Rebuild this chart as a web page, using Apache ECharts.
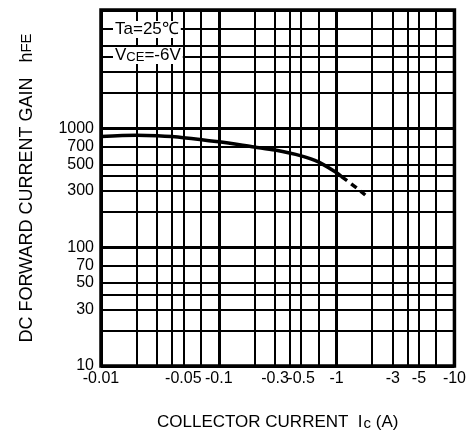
<!DOCTYPE html>
<html>
<head>
<meta charset="utf-8">
<script src="https://cdn.jsdelivr.net/npm/echarts@6/dist/echarts.min.js"></script>
<style>
  html, body { margin: 0; padding: 0; background: #fff; }
  #chart { width: 469px; height: 436px; }
</style>
</head>
<body>
<div id="chart"></div>
<script>
// tick labels (absolute current, shown with a minus sign)
const xTickLabels = [0.01, 0.05, 0.1, 0.3, 0.5, 1, 3, 5, 10];
const yTickLabels = [10, 30, 50, 70, 100, 300, 500, 700, 1000];

// minor grid lines (2,3,4,5,7 in every decade)
const xMinorGrid = [0.02, 0.03, 0.04, 0.05, 0.07, 0.2, 0.3, 0.4, 0.5, 0.7, 2, 3, 4, 5, 7];
const yMinorGrid = [20, 30, 40, 50, 70, 200, 300, 400, 500, 700, 2000, 3000, 4000, 5000, 7000];

// hFE curve
const icSolid = [0.01, 0.02, 0.03, 0.05, 0.1, 0.2, 0.3, 0.5, 0.7, 1.0, 1.1];
const hfeSolid = [860, 880, 870, 840, 775, 700, 660, 590, 525, 425, 395];
const icDashed = [1.1, 1.4, 1.75];
const hfeDashed = [395, 330, 276];

const font = '"Liberation Sans", Arial, sans-serif';

const chart = echarts.init(document.getElementById('chart'));

const pairs = (xs, ys) => xs.map((x, i) => [x, ys[i]]);

chart.setOption({
  animation: false,
  backgroundColor: '#fff',
  grid: {
    left: 101, right: 11, top: 10, bottom: 70,
    show: true, borderColor: '#000', borderWidth: 3.5
  },
  xAxis: [
    {
      type: 'log', logBase: 10, min: 0.01, max: 10,
      axisLine: { show: false },
      axisTick: { show: false },
      splitLine: { show: true, lineStyle: { color: '#000', width: 3 } },
      axisLabel: {
        customValues: xTickLabels,
        formatter: v => '-' + v,
        color: '#000', fontFamily: font, fontSize: 16, margin: 5
      },
      name: '{a|COLLECTOR CURRENT  I}{b|c}{a| (A)}',
      nameLocation: 'middle',
      nameGap: 47,
      nameTextStyle: {
        rich: {
          a: { fontFamily: font, fontSize: 17, color: '#000' },
          b: { fontFamily: font, fontSize: 15, color: '#000', padding: [3, 0, 0, 1] }
        }
      }
    },
    {
      type: 'log', logBase: 10, min: 0.01, max: 10,
      position: 'bottom',
      axisLine: { show: false },
      axisTick: { show: false, customValues: xMinorGrid },
      axisLabel: { show: false },
      splitLine: { show: true, lineStyle: { color: '#000', width: 2 } }
    }
  ],
  yAxis: [
    {
      type: 'log', logBase: 10, min: 10, max: 10000,
      axisLine: { show: false },
      axisTick: { show: false },
      splitLine: { show: true, lineStyle: { color: '#000', width: 3 } },
      axisLabel: {
        customValues: yTickLabels,
        formatter: v => String(v),
        color: '#000', fontFamily: font, fontSize: 16, margin: 7
      },
      name: '{a|DC FORWARD CURRENT GAIN   h}{b|FE}',
      nameLocation: 'middle',
      nameRotate: 90,
      nameGap: 65,
      nameTextStyle: {
        rich: {
          a: { fontFamily: font, fontSize: 18, color: '#000' },
          b: { fontFamily: font, fontSize: 15, color: '#000' }
        }
      }
    },
    {
      type: 'log', logBase: 10, min: 10, max: 10000,
      position: 'left',
      axisLine: { show: false },
      axisTick: { show: false, customValues: yMinorGrid },
      axisLabel: { show: false },
      splitLine: { show: true, lineStyle: { color: '#000', width: 2 } }
    }
  ],
  graphic: [
    {
      type: 'text', left: 113, top: 21, z: 10,
      style: {
        text: 'Ta=25℃', font: '17px ' + font, fill: '#000',
        backgroundColor: '#fff', padding: [0, 2]
      }
    },
    {
      type: 'text', left: 113, top: 47, z: 10,
      style: {
        rich: {
          a: { fontFamily: font, fontSize: 17, fill: '#000' },
          b: { fontFamily: font, fontSize: 13, fill: '#000', padding: [3, 0, 0, 0] }
        },
        text: '{a|V}{b|CE}{a|=-6V}',
        backgroundColor: '#fff', padding: [0, 2]
      }
    }
  ],
  series: [
    {
      type: 'line',
      data: pairs(icSolid, hfeSolid),
      smooth: 0.3,
      symbol: 'none',
      lineStyle: { color: '#000', width: 3.5 },
      z: 5
    },
    {
      type: 'line',
      data: pairs(icDashed, hfeDashed),
      smooth: 0.3,
      symbol: 'none',
      lineStyle: { color: '#000', width: 3.5, type: [7, 5] },
      z: 5
    }
  ]
});
</script>
</body>
</html>
